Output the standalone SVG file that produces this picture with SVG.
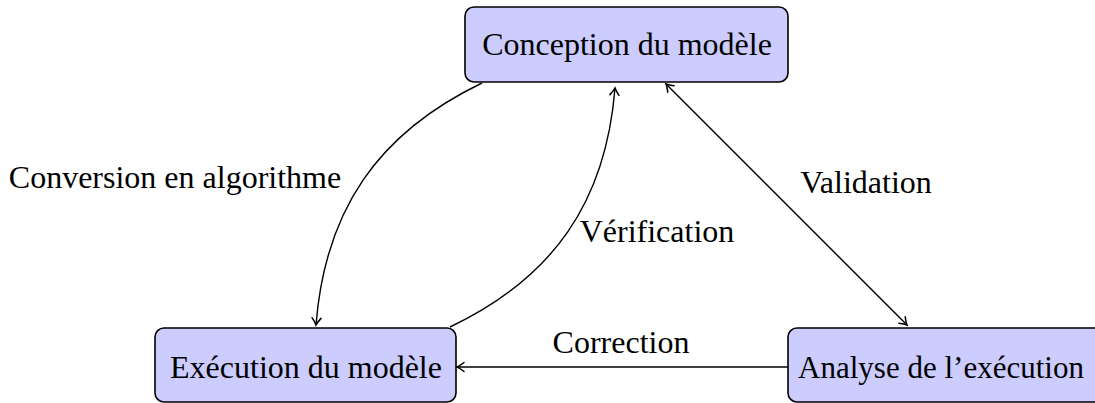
<svg xmlns="http://www.w3.org/2000/svg" width="1095" height="403" viewBox="0 0 1095 403">
<style>
.node rect{fill:#ccccff;stroke:#000;stroke-width:1.6}
text{font-family:"Liberation Serif","DejaVu Serif",serif;font-size:32px;fill:#000}
.nt{text-anchor:middle}
.edge{fill:none;stroke:#000;stroke-width:1.4}
</style>
<defs>
<marker id="ah" viewBox="-9 -6 11 12" refX="0" refY="0" markerWidth="11" markerHeight="12" markerUnits="userSpaceOnUse" orient="auto-start-reverse">
<path d="M-7,-4.5 Q-2.5,-1 0,0 Q-2.5,1 -7,4.5" fill="none" stroke="#000" stroke-width="1.5" stroke-linecap="round"/>
</marker>
</defs>
<rect width="1095" height="403" fill="#fff"/>
<g id="edges">
<path class="edge" d="M482,83 C378,133 325,210 316,325" marker-end="url(#ah)"/>
<path class="edge" d="M450,327 C553,278 606,202 615,88" marker-end="url(#ah)"/>
<path class="edge" d="M666,84 L907,325" marker-start="url(#ah)" marker-end="url(#ah)"/>
<path class="edge" d="M788,367 L457,367" marker-end="url(#ah)"/>
<text x="175" y="188" class="nt">Conversion en algorithme</text>
<text x="657" y="242" class="nt">Vérification</text>
<text x="866" y="193" class="nt">Validation</text>
<text x="621" y="353" class="nt">Correction</text>
</g>
<g id="n1" class="node">
<rect x="465" y="7" width="323" height="75" rx="9"/>
<text x="627" y="55" class="nt">Conception du modèle</text>
</g>
<g id="n2" class="node">
<rect x="155" y="328" width="301" height="74" rx="9"/>
<text x="306" y="378" class="nt">Exécution du modèle</text>
</g>
<g id="n3" class="node">
<rect x="788" y="328" width="330" height="74" rx="9"/>
<text x="941" y="378" class="nt" style="font-size:31px">Analyse de l’exécution</text>
</g>
</svg>
